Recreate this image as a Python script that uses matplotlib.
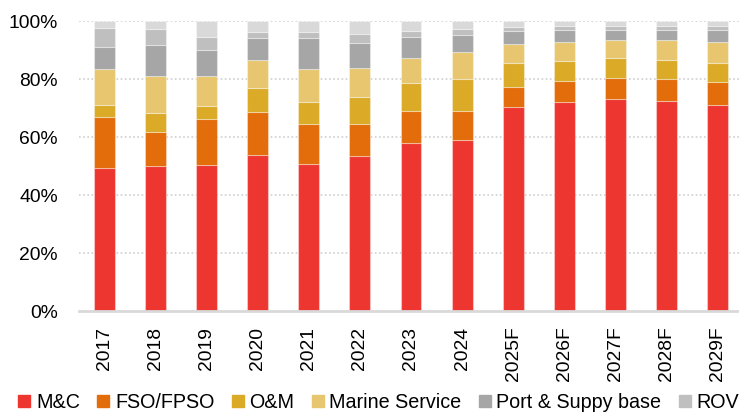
import matplotlib
matplotlib.use("Agg")
import matplotlib.pyplot as plt
from matplotlib.lines import Line2D
import numpy as np

years = ["2017", "2018", "2019", "2020", "2021", "2022", "2023", "2024",
         "2025F", "2026F", "2027F", "2028F", "2029F"]
series_names = ["M&C", "FSO/FPSO", "O&M", "Marine Service", "Port & Suppy base", "ROV", "Others"]
mc      = [49.3, 50.1, 50.4, 53.9, 50.6, 53.3, 58.0, 59.1, 70.2, 72.1, 73.0, 72.5, 71.1]
fso     = [17.5, 11.5, 15.7, 14.8, 14.0, 11.3, 11.1, 10.0, 7.1, 7.3, 7.4, 7.4, 8.0]
om      = [4.4, 6.8, 4.6, 8.2, 7.6, 9.2, 9.6, 10.9, 8.1, 6.9, 6.8, 6.7, 6.4]
marine  = [12.1, 12.6, 10.3, 9.5, 11.1, 9.9, 8.5, 9.3, 6.8, 6.5, 6.1, 6.7, 7.2]
port    = [7.8, 10.6, 9.1, 7.8, 10.9, 8.8, 7.4, 6.0, 4.4, 4.2, 3.7, 3.7, 4.3]
rov     = [6.6, 5.6, 4.5, 2.0, 2.0, 3.1, 2.0, 1.9, 1.4, 1.3, 1.3, 1.3, 1.3]
others  = [2.3, 2.8, 5.4, 3.8, 3.8, 4.4, 3.4, 2.8, 2.0, 1.7, 1.7, 1.7, 1.7]
yticks = [0, 20, 40, 60, 80, 100]

colors = ["#EE3630", "#E36C0B", "#DBAB28", "#E7C66F", "#A6A6A6", "#BFBFBF", "#D9D9D9"]
data = [mc, fso, om, marine, port, rov, others]

plt.rcParams["font.family"] = ["Liberation Sans", "DejaVu Sans"]

W, H = 739, 413
fig = plt.figure(figsize=(W / 100, H / 100), dpi=100)
ax = fig.add_axes([79 / W, (H - 311) / H, 664 / W, 290 / H])

x = np.arange(len(years))
bottom = np.zeros(len(years))
for vals, c in zip(data, colors):
    v = np.array(vals)
    ax.bar(x, v, 0.41, bottom=bottom, color=c, edgecolor=(1, 1, 1, 0.35),
           linewidth=0.8, zorder=3)
    bottom += v

ax.set_xlim(-0.5, len(years) - 0.5)
ax.set_ylim(0, 100)
ax.set_yticks(yticks)
ax.set_yticklabels([f"{t}%" for t in yticks], fontsize=13.9)
ax.set_xticks(x)
ax.set_xticklabels(years, rotation=90, fontsize=13.9)
ax.tick_params(axis="both", length=0, colors="#000000")
ax.tick_params(axis="y", pad=15.1)
ax.tick_params(axis="x", pad=11.3)
for s in ["top", "right", "left"]:
    ax.spines[s].set_visible(False)
ax.spines["bottom"].set_color("#D9D9D9")
ax.spines["bottom"].set_linewidth(2)
ax.spines["bottom"].set_zorder(4)
for t in yticks[1:]:
    ax.axhline(t, color="#CFCFCF", linewidth=1.2, linestyle=(0, (1, 1.5)), zorder=1)

fs = 14.2
fpx = fs * 100 / 72
handles = [Line2D([], [], marker="s", linestyle="none", markersize=9,
                  markerfacecolor=c, markeredgecolor=c) for c in colors]
fig.legend(handles, series_names, loc="center left",
           bbox_to_anchor=(18 / W, (H - 402) / H), ncol=7, frameon=False,
           fontsize=fs, handlelength=12.7 / fpx, handletextpad=5.3 / fpx,
           columnspacing=17 / fpx, borderpad=0, borderaxespad=0)

fig.savefig("out.png", dpi=100)
